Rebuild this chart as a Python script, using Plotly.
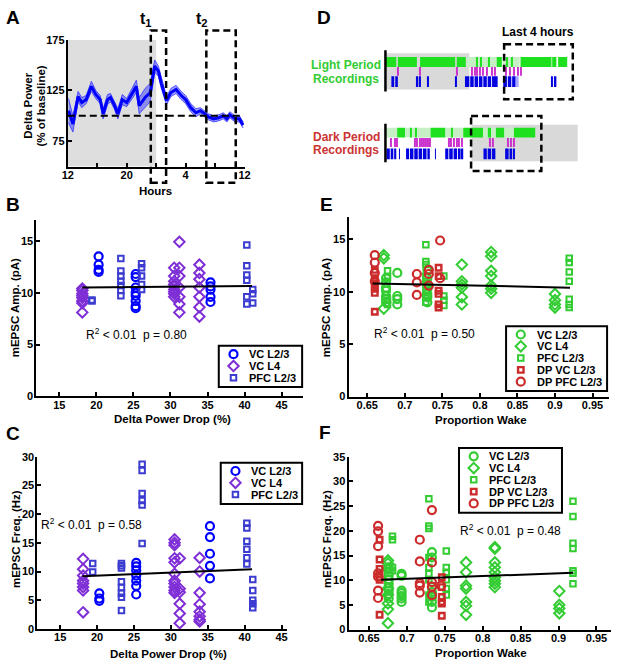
import plotly.graph_objects as go

W, H = 617, 669
FONT = "Liberation Sans, Arial, sans-serif"
NARROW = "Liberation Sans Narrow, Arial Narrow, Liberation Sans, sans-serif"

BLUE = "#0000ff"
PURPLE = "#7f2fd6"
SQBLUE = "#3c3cd0"
GREEN = "#33cc33"
RED = "#cc2b2b"

# ---------------- panel A : delta power time course ----------------
a_hours = [12.1, 12.7, 13.4, 13.9, 14.5, 15.2, 15.8, 16.4, 16.8, 17.4,
           17.8, 18.3, 18.8, 19.4, 20.0, 20.5, 21.3, 21.7, 22.5, 23.2,
           23.8, 24.3, 24.7, 25.4, 26.0, 26.7, 27.4, 28.0, 28.7, 29.4,
           30.0, 30.6, 31.1, 31.8, 32.5, 33.1, 33.6, 34.0, 34.7, 35.3, 35.8]
a_delta = [105, 92, 119, 113, 116, 129, 121, 116, 102, 116,
           118, 111, 102, 116, 113, 119, 129, 110, 118, 123,
           149, 144, 132, 115, 123, 126, 120, 116, 108, 103,
           105, 102, 99, 97, 98, 100, 97, 101, 97, 97, 91]
a_sem = [12, 8, 5, 5, 4, 5, 4, 4, 5, 5, 4, 4, 5, 5, 4, 5, 6, 8, 9, 9,
         6, 5, 5, 4, 4, 4, 4, 4, 4, 4, 3, 3, 3, 3, 3, 3, 3, 3, 3, 3, 3]
a_xticks = [12, 20, 28, 36]
a_xlabels = ["12", "20", "4", "12"]
a_xminor = [16, 24, 32]
a_dark = [12, 24]          # shaded dark phase
a_t1 = [23.27, 25.35]      # t1 window
a_t2 = [30.81, 34.8]       # t2 window

# ---------------- panel B : amplitude vs delta power drop ----------------
b_vc23_x = [20.3, 20.3, 20.3, 20.3, 25.3, 25.3, 25.3, 25.3, 25.3, 25.3, 25.3, 25.3,
            35.4, 35.4, 35.4, 35.4, 35.4]
b_vc23_y = [13.5, 12.7, 12.2, 12.0, 11.8, 11.5, 10.5, 10.0, 9.7, 9.2, 8.7, 8.5,
            11.0, 10.6, 10.3, 9.6, 9.1]
b_l4_x = [18.1, 18.1, 18.1, 18.1, 18.1, 18.1, 18.1, 18.1,
          30.5, 30.5, 30.5, 30.5, 30.5, 30.5, 30.5, 30.5, 30.5,
          31.2, 31.2, 31.2, 31.2, 31.2, 31.2, 31.2,
          33.9, 33.9, 33.9, 33.9, 33.9, 33.9, 33.9]
b_l4_y = [10.4, 10.2, 9.9, 9.7, 9.5, 9.2, 9.0, 8.1,
          12.4, 11.6, 11.1, 10.8, 10.6, 10.3, 10.1, 9.9, 9.6,
          14.9, 12.4, 11.6, 10.5, 9.6, 8.9, 8.1,
          12.7, 11.9, 11.3, 10.5, 9.6, 8.6, 7.7]
b_pfc_x = [19.4, 19.4, 23.3, 23.3, 23.3, 23.3, 23.3, 23.3, 23.3,
           26.1, 26.1, 26.1, 26.1, 26.1, 40.3, 40.3, 40.3, 40.3, 40.3, 40.3,
           41.1, 41.1, 41.1]
b_pfc_y = [9.3, 9.2, 13.3, 12.1, 11.6, 11.1, 10.7, 10.2, 9.7,
           12.8, 12.4, 11.6, 10.8, 10.3, 14.6, 12.6, 11.7, 11.2, 9.6, 8.9,
           10.3, 9.9, 9.0]
b_fit_x = [18.1, 41.0]
b_fit_y = [10.5, 10.65]

# ---------------- panel C : frequency vs delta power drop ----------------
c_vc23_x = [20.3, 20.3, 20.3, 25.3, 25.3, 25.3, 25.3, 25.3, 25.3, 25.3,
            35.3, 35.3, 35.3, 35.3, 35.3]
c_vc23_y = [6.2, 5.3, 4.9, 11.5, 10.9, 10.2, 9.3, 8.4, 7.5, 6.0,
            17.9, 16.0, 13.1, 11.0, 8.8]
c_l4_x = [18.1, 18.1, 18.1, 18.1, 18.1, 18.1, 18.1, 18.1,
          30.5, 30.5, 30.5, 30.5, 30.5, 30.5, 30.5, 30.5, 30.5, 30.5, 30.5,
          31.2, 31.2, 31.2, 31.2, 31.2, 31.2,
          33.9, 33.9, 33.9, 33.9, 33.9, 33.9, 33.9, 33.9]
c_l4_y = [12.2, 10.4, 9.3, 8.4, 7.9, 7.3, 6.7, 2.9,
          15.6, 15.0, 14.6, 12.3, 11.6, 9.6, 8.4, 7.9, 7.3, 6.7, 6.3,
          12.3, 7.0, 6.4, 4.4, 2.7, 1.0,
          12.4, 10.0, 6.3, 4.3, 3.0, 2.2, 1.6, 1.3]
c_pfc_x = [19.4, 19.4, 23.3, 23.3, 23.3, 23.3, 23.3, 23.3, 23.3, 23.3,
           26.1, 26.1, 26.1, 26.1, 26.1, 26.1, 40.3, 40.3, 40.3, 40.3, 40.3, 40.3,
           41.1, 41.1, 41.1, 41.1, 41.1]
c_pfc_y = [11.4, 9.9, 11.4, 11.0, 10.6, 8.2, 7.2, 6.2, 5.5, 3.2,
           28.7, 27.6, 23.6, 22.4, 21.6, 14.9, 18.4, 17.6, 15.3, 13.9, 12.4, 11.3,
           8.6, 6.7, 5.0, 4.4, 3.7]
c_fit_x = [18.0, 41.0]
c_fit_y = [9.2, 10.4]

# ---------------- panel E : amplitude vs proportion wake ----------------
e_vc23_x = [0.675] * 7 + [0.69] * 4 + [0.73] * 7
e_vc23_y = [11.3, 10.9, 10.4, 10.1, 9.6, 9.3, 9.0, 11.8, 9.6, 9.3, 8.8,
            12.1, 11.3, 10.7, 10.3, 9.8, 9.5, 9.0]
e_l4_x = [0.672] * 3 + [0.776] * 6 + [0.815] * 7 + [0.90] * 4
e_l4_y = [13.5, 13.2, 8.4, 12.6, 11.0, 10.7, 10.4, 9.5, 8.8,
          13.8, 13.4, 12.0, 11.5, 10.6, 10.3, 9.9, 9.8, 9.2, 8.8, 8.5]
e_pfc_x = [0.677] * 4 + [0.728] * 9 + [0.752] * 4 + [0.919] * 7
e_pfc_y = [12.0, 11.4, 9.2, 8.8, 14.5, 12.9, 12.6, 11.5, 11.0, 10.7, 9.9, 9.5, 9.0,
           11.5, 9.6, 9.2, 8.7, 13.2, 12.8, 11.9, 11.0, 9.3, 8.8, 8.5]
e_dpvc_x = [0.66] * 7 + [0.745] * 6
e_dpvc_y = [12.1, 11.3, 11.0, 10.6, 10.3, 9.9, 8.1, 12.3, 11.5, 10.1, 9.8, 8.8, 8.5]
e_dppfc_x = [0.66] * 4 + [0.716] * 3 + [0.732] * 3 + [0.747] * 2
e_dppfc_y = [13.5, 12.8, 11.8, 11.0, 11.7, 10.9, 9.7, 12.1, 11.7, 10.6, 14.9, 11.3]
e_fit_x = [0.657, 0.92]
e_fit_y = [10.8, 10.4]

# ---------------- panel F : frequency vs proportion wake ----------------
f_vc23_x = [0.676] * 9 + [0.693] * 7 + [0.733] * 7
f_vc23_y = [12.6, 11.6, 10.9, 10.1, 9.3, 8.6, 7.9, 7.2, 6.3,
            11.3, 10.9, 7.9, 7.4, 6.8, 6.3, 5.6, 15.7, 14.6, 8.6, 7.6, 6.6, 5.6, 4.5]
f_l4_x = [0.675] * 8 + [0.778] * 7 + [0.816] * 9 + [0.901] * 4
f_l4_y = [14.0, 13.4, 12.3, 8.3, 7.0, 5.3, 4.1, 1.3, 13.6, 11.6, 8.9, 8.3, 5.6, 4.8, 3.0,
          16.7, 16.4, 13.6, 12.6, 11.6, 10.6, 9.9, 9.3, 8.6, 7.8, 5.0, 4.3, 3.3]
f_pfc_x = [0.681] * 4 + [0.729] * 9 + [0.752] * 6 + [0.919] * 7
f_pfc_y = [18.9, 18.2, 12.6, 11.9, 26.5, 21.0, 20.5, 14.6, 12.6, 11.3, 10.1, 7.0, 5.6,
           15.9, 12.6, 11.6, 10.1, 8.3, 7.0, 26.0, 22.9, 17.5, 16.4, 11.9, 11.4, 9.3]
f_dpvc_x = [0.664] * 6 + [0.746] * 6
f_dpvc_y = [18.2, 14.2, 12.3, 10.6, 10.1, 3.0, 10.6, 8.6, 6.6, 5.6, 5.3, 2.8]
f_dppfc_x = [0.662] * 7 + [0.717] * 5 + [0.733] * 5 + [0.745]
f_dppfc_y = [21.0, 19.9, 16.9, 11.4, 10.7, 7.9, 6.4, 18.2, 13.8, 9.4, 8.9, 7.5,
             24.2, 13.6, 9.6, 8.7, 7.0, 8.9]
f_fit_x = [0.666, 0.919]
f_fit_y = [10.1, 11.5]

wake_ticks = [0.65, 0.7, 0.75, 0.8, 0.85, 0.9, 0.95]
wake_labels = ["0.65", "0.7", "0.75", "0.8", "0.85", "0.9", "0.95"]

# ---------------- panel D : hypnograms (hours from start) ----------------
light_wake_start = [0.00, 0.71, 1.98, 4.08, 5.20, 5.43, 5.88, 6.36, 6.95, 7.20, 7.73, 9.54, 9.88]
light_wake_end = [0.62, 1.80, 3.99, 4.60, 5.26, 5.49, 5.94, 6.66, 7.01, 7.26, 9.50, 9.78, 10.40]
light_mixed_start = [4.66, 6.70]
light_mixed_end = [6.34, 7.68]
light_rem = [0.71, 1.93, 4.04, 4.92, 5.07, 5.20, 5.39, 5.54, 5.76, 6.04, 6.23,
             6.85, 7.07, 7.35, 7.54, 7.73]
light_nrem_start = [0.34, 0.56, 1.80, 1.93, 2.39, 3.99, 4.55, 4.85, 5.10, 5.35, 5.60,
                    5.85, 6.10, 6.74, 7.00, 7.25, 9.47, 9.69]
light_nrem_end = [0.50, 0.71, 1.88, 2.02, 2.49, 4.08, 4.80, 5.05, 5.30, 5.55, 5.80,
                  6.05, 6.42, 6.95, 7.20, 7.45, 9.54, 9.78]
light_faint_start = [7.45]
light_faint_end = [7.62]

dark_wake_start = [0.67, 1.45, 1.72, 2.58, 3.75, 4.45, 5.86, 6.32, 7.35]
dark_wake_end = [1.12, 1.51, 1.78, 3.42, 3.81, 5.58, 6.04, 6.79, 8.57]
dark_mixed_start = [0.00, 1.12, 3.42, 5.58, 6.79]
dark_mixed_end = [0.67, 2.58, 4.45, 6.32, 7.35]
dark_rem = [0.30, 0.49, 0.62, 1.65, 1.80, 1.93, 2.06, 2.17, 2.30, 2.39, 2.54,
            3.61, 3.74, 3.89, 4.04, 4.17, 4.36, 5.95, 6.10, 6.98, 7.17, 7.35]
dark_nrem_start = [0.06, 0.30, 0.50, 0.78, 1.18, 1.40, 1.65, 1.90, 2.15, 2.40, 2.84,
                   3.42, 3.65, 3.90, 4.15, 4.35, 5.61, 5.85, 6.10, 6.85, 7.10, 7.30]
dark_nrem_end = [0.25, 0.45, 0.62, 0.82, 1.35, 1.60, 1.85, 2.10, 2.35, 2.54, 2.88,
                 3.60, 3.85, 4.10, 4.30, 4.45, 5.80, 6.05, 6.29, 7.05, 7.25, 7.41]
light_shade = [0.0, 4.8]
dark_shade = [4.92, 11.0]
light_last4 = [6.79, 10.72]
dark_last4 = [4.9, 8.92]

legend_names_bc = ["VC L2/3", "VC L4", "PFC L2/3"]
legend_names_ef = ["VC L2/3", "VC L4", "PFC L2/3", "DP VC L2/3", "DP PFC L2/3"]


# pixel -> paper helpers
def xdom(x0, x1):
    return [x0 / W, x1 / W]


def ydom(top, bottom):
    return [1 - bottom / H, 1 - top / H]


def mk(symbol, color, size, lw):
    return dict(symbol=symbol, size=size, color=color, line=dict(color=color, width=lw))


M_CIRC_B = mk("circle-open", BLUE, 8, 2.2)
M_DIAM_P = mk("diamond-open", PURPLE, 8, 2)
M_SQ_B = mk("square-open", SQBLUE, 5.5, 2)
M_CIRC_G = mk("circle-open", GREEN, 8, 2.2)
M_DIAM_G = mk("diamond-open", GREEN, 8, 2)
M_SQ_G = mk("square-open", GREEN, 5.5, 2)
M_SQ_R = mk("square-open", RED, 5.5, 2.4)
M_CIRC_R = mk("circle-open", RED, 8, 2.2)

fig = go.Figure()
shapes = []
ann = []


def text(t, x, y, size=11.5, bold=True, color="black", angle=0, family=FONT, xanchor="center"):
    ann.append(dict(text=t, x=x / W, y=1 - y / H, xref="paper", yref="paper", showarrow=False,
                    textangle=angle, xanchor=xanchor, yanchor="middle",
                    font=dict(family=family, size=size, color=color,
                              weight="bold" if bold else "normal")))


def scatter(x, y, marker, ax):
    fig.add_trace(go.Scatter(x=x, y=y, mode="markers", marker=marker, showlegend=False,
                             xaxis="x" + ax, yaxis="y" + ax, hoverinfo="skip"))


def fitline(x, y, ax):
    fig.add_trace(go.Scatter(x=x, y=y, mode="lines", line=dict(color="black", width=2),
                             showlegend=False, xaxis="x" + ax, yaxis="y" + ax, hoverinfo="skip"))


def legend_box(left, top, width, names, markers):
    n = len(names)
    shapes.append(dict(type="rect", xref="paper", yref="paper", x0=left / W, x1=(left + width) / W,
                       y0=1 - (top + 18 + 12 * (n - 1)) / H, y1=1 - top / H,
                       line=dict(color="black", width=2), fillcolor="white", layer="below"))
    for i, (name, m) in enumerate(zip(names, markers)):
        yy = top + 8.5 + 12 * i
        fig.add_trace(go.Scatter(x=[left + 15], y=[yy], mode="markers", marker=m, showlegend=False,
                                 xaxis="x7", yaxis="y7", hoverinfo="skip"))
        text(name, left + 29, yy, size=11, xanchor="left")


# ---- A
upper = [d + s for d, s in zip(a_delta, a_sem)]
lower = [d - s for d, s in zip(a_delta, a_sem)]
fig.add_trace(go.Scatter(x=a_hours, y=upper, mode="lines", line=dict(color="rgb(50,50,255)", width=0.8),
                         showlegend=False, hoverinfo="skip"))
fig.add_trace(go.Scatter(x=a_hours, y=lower, mode="lines", line=dict(color="rgb(50,50,255)", width=0.8),
                         fill="tonexty", fillcolor="rgba(40,40,255,0.45)", showlegend=False, hoverinfo="skip"))
fig.add_trace(go.Scatter(x=a_hours, y=a_delta, mode="lines", line=dict(color=BLUE, width=3),
                         showlegend=False, hoverinfo="skip"))
shapes.append(dict(type="rect", xref="x", yref="y", x0=a_dark[0], x1=a_dark[1], y0=50, y1=175,
                   fillcolor="#dedede", line=dict(width=0), layer="below"))
shapes.append(dict(type="line", xref="x", yref="y", x0=12, x1=35.5, y0=100, y1=100,
                   line=dict(color="black", width=2, dash="7px,4px")))
for win in (a_t1, a_t2):
    shapes.append(dict(type="rect", xref="x", yref="paper", x0=win[0], x1=win[1],
                       y0=1 - 180 / H, y1=1 - 25 / H, line=dict(color="black", width=2.5, dash="7px,4px")))

# ---- B
scatter(b_vc23_x, b_vc23_y, M_CIRC_B, "2")
scatter(b_l4_x, b_l4_y, M_DIAM_P, "2")
scatter(b_pfc_x, b_pfc_y, M_SQ_B, "2")
fitline(b_fit_x, b_fit_y, "2")

# ---- C
scatter(c_vc23_x, c_vc23_y, M_CIRC_B, "3")
scatter(c_l4_x, c_l4_y, M_DIAM_P, "3")
scatter(c_pfc_x, c_pfc_y, M_SQ_B, "3")
fitline(c_fit_x, c_fit_y, "3")

# ---- E
scatter(e_vc23_x, e_vc23_y, M_CIRC_G, "4")
scatter(e_l4_x, e_l4_y, M_DIAM_G, "4")
scatter(e_pfc_x, e_pfc_y, M_SQ_G, "4")
scatter(e_dpvc_x, e_dpvc_y, M_SQ_R, "4")
scatter(e_dppfc_x, e_dppfc_y, M_CIRC_R, "4")
fitline(e_fit_x, e_fit_y, "4")

# ---- F
scatter(f_vc23_x, f_vc23_y, M_CIRC_G, "5")
scatter(f_l4_x, f_l4_y, M_DIAM_G, "5")
scatter(f_pfc_x, f_pfc_y, M_SQ_G, "5")
scatter(f_dpvc_x, f_dpvc_y, M_SQ_R, "5")
scatter(f_dppfc_x, f_dppfc_y, M_CIRC_R, "5")
fitline(f_fit_x, f_fit_y, "5")


# ---- D hypnograms
def hbar(starts, ends, y, h, color):
    fig.add_trace(go.Bar(orientation="h", base=starts, x=[e - s for s, e in zip(starts, ends)],
                         y=[y] * len(starts), width=h, marker=dict(color=color, line=dict(width=0)),
                         xaxis="x6", yaxis="y6", showlegend=False, hoverinfo="skip"))


def ticks(starts, y, h, color):
    hbar(starts, [s + 0.06 for s in starts], y, h, color)


# track centres (vertical position units of the D panel)
LIGHT = dict(wake=57, rem=66.5, nrem=77)
DARK = dict(wake=129, rem=139, nrem=150.5)
hbar(light_mixed_start, light_mixed_end, LIGHT["wake"], 10, "#c6efc6")
hbar(light_wake_start, light_wake_end, LIGHT["wake"], 10, "#1fe01f")
ticks(light_rem, LIGHT["rem"], 9, "#cc33cc")
hbar(light_nrem_start, light_nrem_end, LIGHT["nrem"], 11, "#0000e0")
hbar(light_faint_start, light_faint_end, LIGHT["nrem"], 11, "#a9a9ff")
hbar(dark_mixed_start, dark_mixed_end, DARK["wake"], 10, "#c6efc6")
hbar(dark_wake_start, dark_wake_end, DARK["wake"], 10, "#1fe01f")
ticks(dark_rem, DARK["rem"], 9, "#cc33cc")
hbar(dark_nrem_start, dark_nrem_end, DARK["nrem"], 11, "#0000e0")

shapes.append(dict(type="rect", xref="x6", yref="y6", x0=light_shade[0], x1=light_shade[1], y0=48, y1=85,
                   fillcolor="#d9d9d9", line=dict(width=0), layer="below"))
shapes.append(dict(type="rect", xref="x6", yref="y6", x0=dark_shade[0], x1=dark_shade[1], y0=121, y1=158,
                   fillcolor="#d9d9d9", line=dict(width=0), layer="below"))
shapes.append(dict(type="line", xref="x6", yref="y6", x0=0, x1=0, y0=45, y1=87, line=dict(color="black", width=2.5)))
shapes.append(dict(type="line", xref="x6", yref="y6", x0=0, x1=0, y0=120, y1=159, line=dict(color="black", width=2.5)))
shapes.append(dict(type="rect", xref="x6", yref="y6", x0=light_last4[0], x1=light_last4[1], y0=39, y1=95,
                   line=dict(color="black", width=2.5, dash="7px,4px")))
shapes.append(dict(type="rect", xref="x6", yref="y6", x0=dark_last4[0], x1=dark_last4[1], y0=112, y1=168,
                   line=dict(color="black", width=2.5, dash="7px,4px")))

# ---- legends
legend_box(217, 346, 85, legend_names_bc, [M_CIRC_B, M_DIAM_P, M_SQ_B])
legend_box(219, 465, 83, legend_names_bc, [M_CIRC_B, M_DIAM_P, M_SQ_B])
legend_box(510, 326, 103, legend_names_ef, [M_CIRC_G, M_DIAM_G, M_SQ_G, M_SQ_R, M_CIRC_R])
legend_box(462, 450, 105, legend_names_ef, [M_CIRC_G, M_DIAM_G, M_SQ_G, M_SQ_R, M_CIRC_R])

# ---- texts
for letter, x, y in [("A", 7, 12), ("B", 7, 202), ("C", 7, 435), ("D", 324, 12), ("E", 327, 202), ("F", 325, 434)]:
    text(letter, x, y, size=19)
text("t<sub>1</sub>", 143, 14, size=16)
text("t<sub>2</sub>", 200, 14, size=16)
text("Delta Power", 23, 102, angle=-90)
text("(% of baseline)", 36, 102, angle=-90)
text("Hours", 152, 188)
text("Last 4 hours", 543, 26, size=12)
text("Light Period", 347, 60, size=12, color=GREEN)
text("Recordings", 347, 74, size=12, color=GREEN)
text("Dark Period", 347, 133, size=12, color="#cc3333")
text("Recordings", 347, 147, size=12, color="#cc3333")
text("mEPSC Amp. (pA)", 10, 307, angle=-90)
text("Delta Power Drop (%)", 170, 421)
text("mEPSC Freq. (Hz)", 10, 543, angle=-90)
text("Delta Power Drop (%)", 166, 660)
text("mEPSC Amp. (pA)", 327, 307, angle=-90)
text("Proportion Wake", 484, 422)
text("mEPSC Freq. (Hz)", 328, 543, angle=-90)
text("Proportion Wake", 484, 659)
r2 = "R<sup>2</sup> &lt; 0.01\u00a0\u00a0p = "
text(r2 + "0.80", 133, 334, size=12, bold=False, family=NARROW)
text(r2 + "0.58", 87, 527, size=12, bold=False, family=NARROW)
text(r2 + "0.50", 427, 333, size=12, bold=False, family=NARROW)
text(r2 + "0.48", 515, 534, size=12, bold=False, family=NARROW)

axis = dict(showline=True, linecolor="black", linewidth=2, ticks="inside", ticklen=4, tickwidth=2,
            tickcolor="black", showgrid=False, zeroline=False,
            tickfont=dict(family=FONT, size=11, color="black", weight="bold"))
xax = dict(axis, ticklabelstandoff=-3)
yax = dict(axis, ticklabelstandoff=-1)

fig.update_layout(
    width=W, height=H, margin=dict(l=0, r=0, t=0, b=0),
    paper_bgcolor="white", plot_bgcolor="rgba(0,0,0,0)",
    showlegend=False, barmode="overlay",
    shapes=shapes, annotations=ann,
    xaxis=dict(xax, domain=xdom(63, 243.3), range=[12, 36], tickvals=a_xticks, ticktext=a_xlabels,
               minor=dict(tickvals=a_xminor, ticks="inside", ticklen=4, tickwidth=2, tickcolor="black"),
               anchor="y"),
    yaxis=dict(yax, domain=ydom(34.3, 163.5), range=[50, 175], tickvals=[75, 125, 175], anchor="x"),
    xaxis2=dict(xax, domain=xdom(31, 303), range=[11.9, 47.9], dtick=5, tick0=0, anchor="y2"),
    yaxis2=dict(yax, domain=ydom(218, 397.5), range=[0, 17], dtick=5, tick0=0, anchor="x2"),
    xaxis3=dict(xax, domain=xdom(32, 287), range=[11.9, 45.8], dtick=5, tick0=0, anchor="y3"),
    yaxis3=dict(yax, domain=ydom(459, 634.3), range=[0, 30], dtick=5, tick0=0, anchor="x3"),
    xaxis4=dict(xax, domain=xdom(349.3, 615), range=[0.625, 0.972], tickvals=wake_ticks,
                ticktext=wake_labels, anchor="y4"),
    yaxis4=dict(yax, domain=ydom(215, 397.7), range=[0, 17.13], dtick=5, tick0=0, anchor="x4"),
    xaxis5=dict(xax, domain=xdom(349.3, 616.5), range=[0.623, 0.9685], tickvals=wake_ticks,
                ticktext=wake_labels, anchor="y5"),
    yaxis5=dict(yax, domain=ydom(459, 635), range=[0, 35], dtick=5, tick0=0, anchor="x5"),
    xaxis6=dict(domain=xdom(383.4, 586.6), range=[-0.2, 11.2], visible=False, anchor="y6"),
    yaxis6=dict(domain=ydom(36, 172), range=[172, 36], visible=False, anchor="x6"),
    xaxis7=dict(domain=[0, 1], range=[0, W], visible=False, anchor="y7"),
    yaxis7=dict(domain=[0, 1], range=[H, 0], visible=False, anchor="x7"),
)

# the page's default body margin would shift the figure; remove it
fig.write_html("out.html", config={"displayModeBar": False},
               post_script="document.body.style.margin = '0';")
